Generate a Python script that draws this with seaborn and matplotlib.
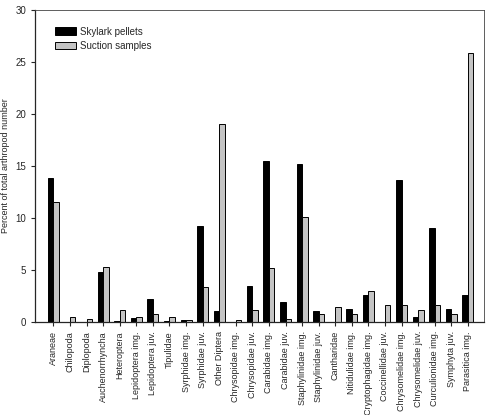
import matplotlib
matplotlib.use("Agg")
import matplotlib.pyplot as plt
import seaborn as sns
import pandas as pd

# data
taxa = ["Araneae", "Chilopoda", "Diplopoda", "Auchenorrhyncha", "Heteroptera",
        "Lepidoptera img.", "Lepidoptera juv.", "Tipulidae", "Syrphidae img.",
        "Syrphidae juv.", "Other Diptera", "Chrysopidae img.", "Chrysopidae juv.",
        "Carabidae img.", "Carabidae juv.", "Staphylinidae img.", "Staphylinidae juv.",
        "Cantharidae", "Nitidulidae img.", "Cryptophagidae img.", "Coccinellidae juv.",
        "Chrysomelidae img.", "Chrysomelidae juv.", "Curculionidae img.",
        "Symphyta juv.", "Parasitica img."]
skylark = [13.8, 0.0, 0.0, 4.8, 0.13, 0.35, 2.2, 0.06, 0.19, 9.25, 1.1, 0.0, 3.5,
           15.5, 1.95, 15.15, 1.05, 0.0, 1.25, 2.6, 0.0, 13.7, 0.5, 9.05, 1.3, 2.6]
suction = [11.55, 0.5, 0.26, 5.3, 1.2, 0.5, 0.82, 0.5, 0.19, 3.33, 19.0, 0.2, 1.12,
           5.2, 0.26, 10.05, 0.8, 1.4, 0.75, 2.95, 1.65, 1.6, 1.2, 1.6, 0.8, 25.9]
series = ["Skylark pellets", "Suction samples"]

df = pd.DataFrame({
    "taxon": taxa * 2,
    "value": skylark + suction,
    "source": [series[0]] * len(taxa) + [series[1]] * len(taxa),
})

sns.set_style("ticks")
plt.rcParams["font.family"] = ["Liberation Sans", "DejaVu Sans"]

fig = plt.figure(figsize=(4.89, 4.15), dpi=100)
ax = fig.add_axes([0.072, 0.224, 0.918, 0.752])

sns.barplot(data=df, x="taxon", y="value", hue="source", ax=ax,
            palette=["#000000", "#c4c4c4"], width=0.66, gap=0,
            edgecolor="black", linewidth=0.7, saturation=1)

ax.set_ylim(0, 30)
ax.set_yticks(range(0, 31, 5))
ax.set_xlim(-1.1, len(taxa) - 0.02)
ax.set_xlabel("")
ax.set_ylabel("Percent of total arthropod number", fontsize=6.5, labelpad=4)
ax.tick_params(axis="y", labelsize=7, length=3, width=0.8)
ax.tick_params(axis="x", labelsize=6.5, length=3, width=0.8, rotation=90)
for side in ["top", "right"]:
    ax.spines[side].set_visible(True)
    ax.spines[side].set_linewidth(0.6)
    ax.spines[side].set_color("#444444")
for side in ["left", "bottom"]:
    ax.spines[side].set_linewidth(0.9)

leg = ax.legend(loc="upper left", bbox_to_anchor=(0.025, 0.975), frameon=False,
                fontsize=7, handlelength=2.1, handleheight=0.85, handletextpad=0.45,
                labelspacing=0.45)

fig.savefig("out.png", dpi=100)
